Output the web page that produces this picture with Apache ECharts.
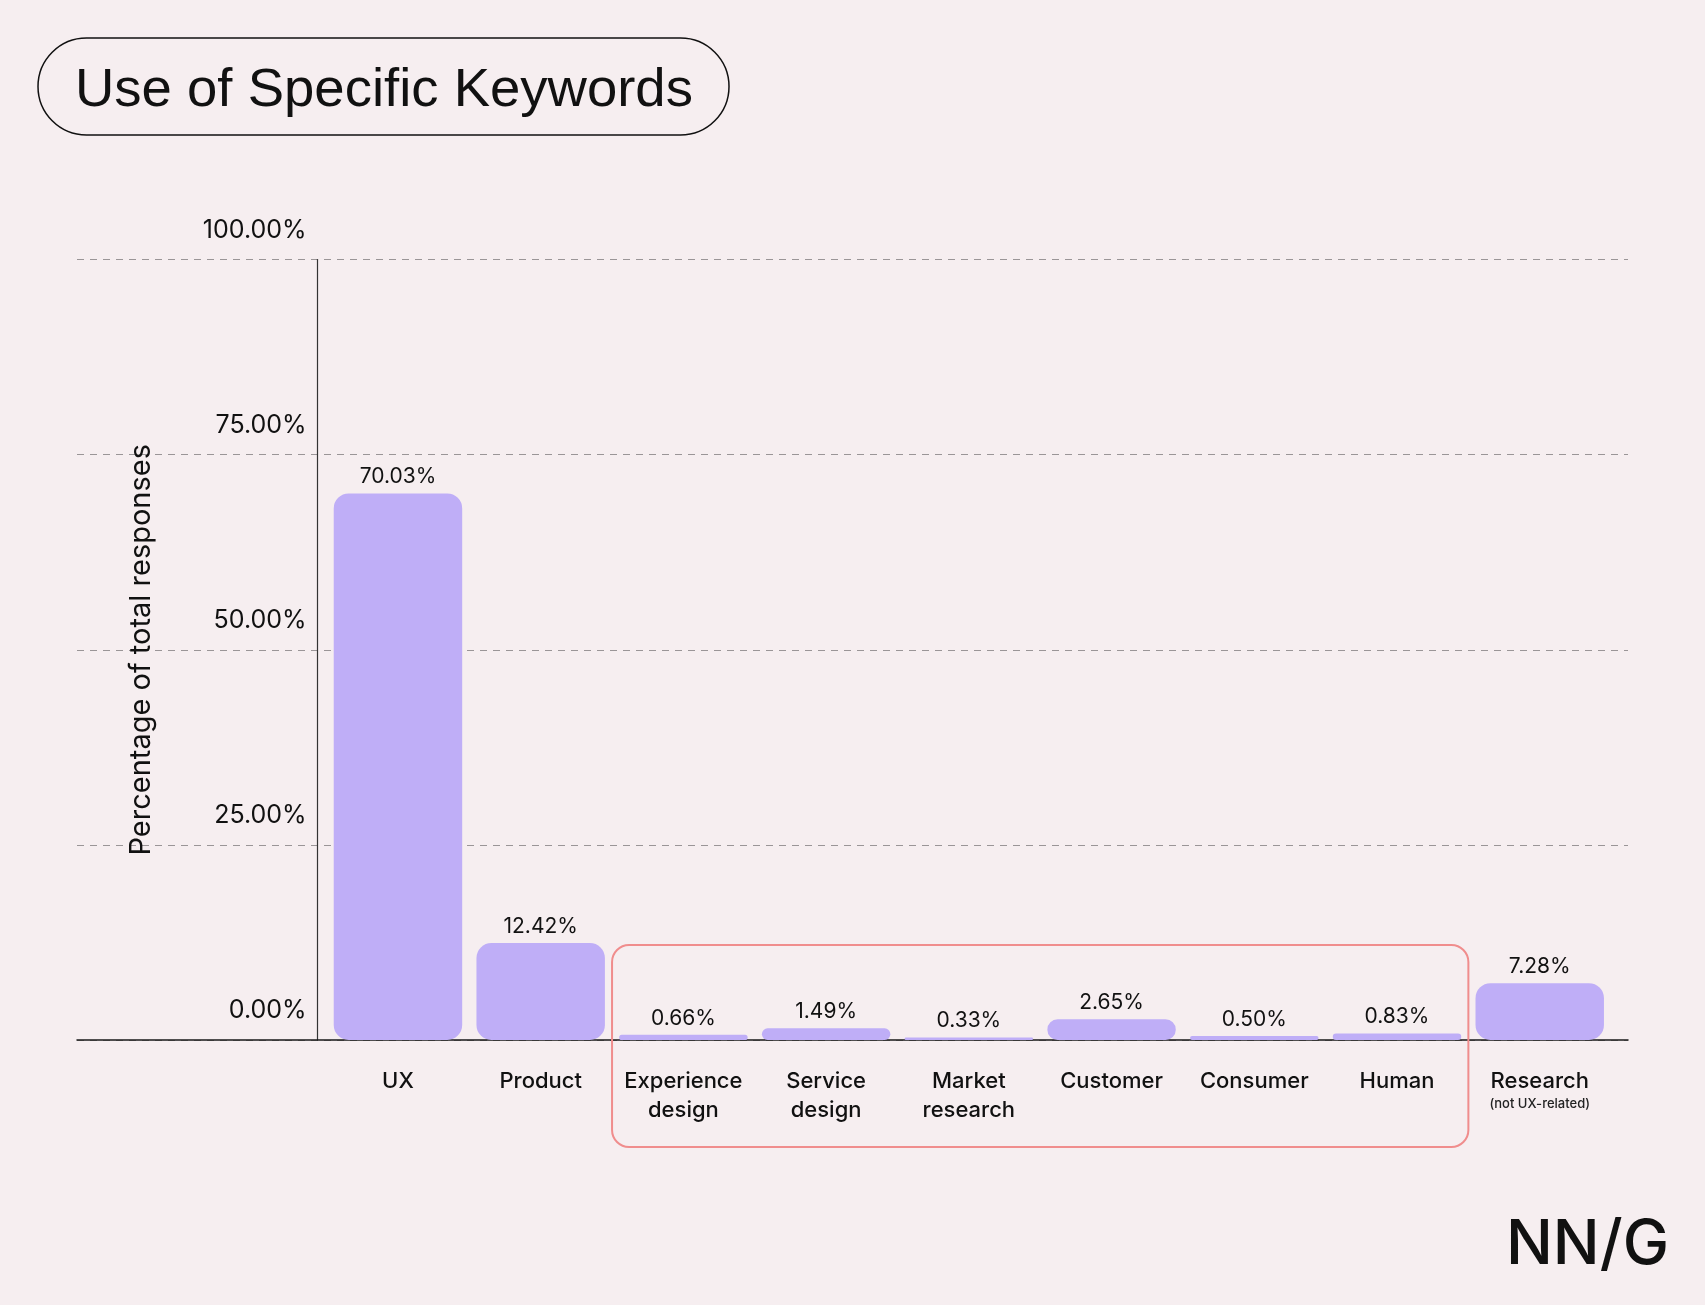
<!DOCTYPE html>
<html><head><meta charset="utf-8">
<script src="https://cdn.jsdelivr.net/npm/echarts@6/dist/echarts.min.js"></script>
<style>html,body{margin:0;padding:0;background:#f6eef0}#c{width:1705px;height:1305px}</style>
</head><body><div id="c"></div>
<script>
const categories = ['UX','Product','Experience\ndesign','Service\ndesign','Market\nresearch','Customer','Consumer','Human','Research'];
const shareValues = [70.03, 12.42, 0.66, 1.49, 0.33, 2.65, 0.50, 0.83, 7.28];
const yTicks = [0, 25, 50, 75, 100];
const titleText = 'Use of Specific Keywords';
const yAxisTitle = 'Percentage of total responses';

const BG = '#f6eef0', BAR = '#bfaef7', FONT = 'Inter, "Noto Sans", sans-serif';
const chart = echarts.init(document.getElementById('c'));
const TOP = 259.5, BOTTOM = 1305 - 1040;

chart.setOption({
  backgroundColor: BG,
  animation: false,
  grid: [
    {left: 77, right: 77, top: TOP, bottom: BOTTOM},
    {left: 326.6, right: 93.9, top: TOP, bottom: BOTTOM}
  ],
  xAxis: [
    {gridIndex: 0, type: 'value', min: 0, max: 1, axisLine: {show: true, lineStyle: {color: '#1a1a1a', width: 1.5}},
     axisTick: {show: false}, axisLabel: {show: false}, splitLine: {show: false}},
    {gridIndex: 1, type: 'category', data: categories, axisLine: {show: false}, axisTick: {show: false},
     axisLabel: {interval: 0, margin: 27, fontFamily: FONT, fontSize: 22, fontWeight: 500, color: '#111', lineHeight: 29,
       formatter: v => v === 'Research' ? 'Research\n{s|(not UX-related)}' : v,
       rich: {s: {fontFamily: FONT, fontSize: 13, color: '#222', lineHeight: 16, padding: [0,0,0,0]}}}}
  ],
  yAxis: [
    {gridIndex: 0, type: 'value', min: yTicks[0], max: yTicks[yTicks.length-1], interval: 25,
     axisLine: {show: false}, axisTick: {show: false}, axisLabel: {show: false},
     splitLine: {show: true, lineStyle: {color: '#9a9597', type: [7, 6], width: 1.2}}},
    {gridIndex: 1, type: 'value', min: yTicks[0], max: yTicks[yTicks.length-1], interval: 25, offset: 9,
     axisLine: {show: true, lineStyle: {color: '#333', width: 1.2}}, axisTick: {show: false},
     splitLine: {show: false},
     name: yAxisTitle, nameLocation: 'middle', nameGap: 162, nameRotate: 90,
     nameTextStyle: {fontFamily: FONT, fontSize: 29, color: '#111'},
     axisLabel: {margin: 11, fontFamily: FONT, fontSize: 25, color: '#111', verticalAlign: 'bottom', padding: [0,0,17,0],
       formatter: v => v.toFixed(2) + '%'}}
  ],
  series: [{
    type: 'bar', xAxisIndex: 1, yAxisIndex: 1, data: shareValues, barCategoryGap: '10%',
    itemStyle: {color: BAR, borderRadius: 15},
    label: {show: true, position: 'top', distance: 6, fontFamily: FONT, fontSize: 21, color: '#111',
      formatter: p => p.value.toFixed(2) + '%'}
  }]
});

// annotation box around the "design-adjacent" group
const band = chart.convertToPixel({xAxisIndex: 1}, categories[3]) - chart.convertToPixel({xAxisIndex: 1}, categories[2]);
const bx0 = chart.convertToPixel({xAxisIndex: 1}, categories[2]) - band / 2;
const bx1 = chart.convertToPixel({xAxisIndex: 1}, categories[7]) + band / 2;
chart.setOption({
  graphic: [
    {type: 'rect', shape: {x: bx0, y: 945, width: bx1 - bx0, height: 202, r: 17}, z: 10,
     style: {fill: null, stroke: '#f08d8d', lineWidth: 2}},
    {type: 'rect', shape: {x: 38, y: 38, width: 691, height: 97, r: 48.5},
     style: {fill: null, stroke: '#111', lineWidth: 1.5}},
    {type: 'text', x: 75, y: 91, style: {text: titleText, font: '54.5px "Liberation Sans", Arial, sans-serif', fill: '#111', textVerticalAlign: 'middle'}},
    {type: 'text', right: 36, top: 1214, style: {text: 'NN/G', font: '500 62px Inter, sans-serif', fill: '#111'}}
  ]
});
</script></body></html>
